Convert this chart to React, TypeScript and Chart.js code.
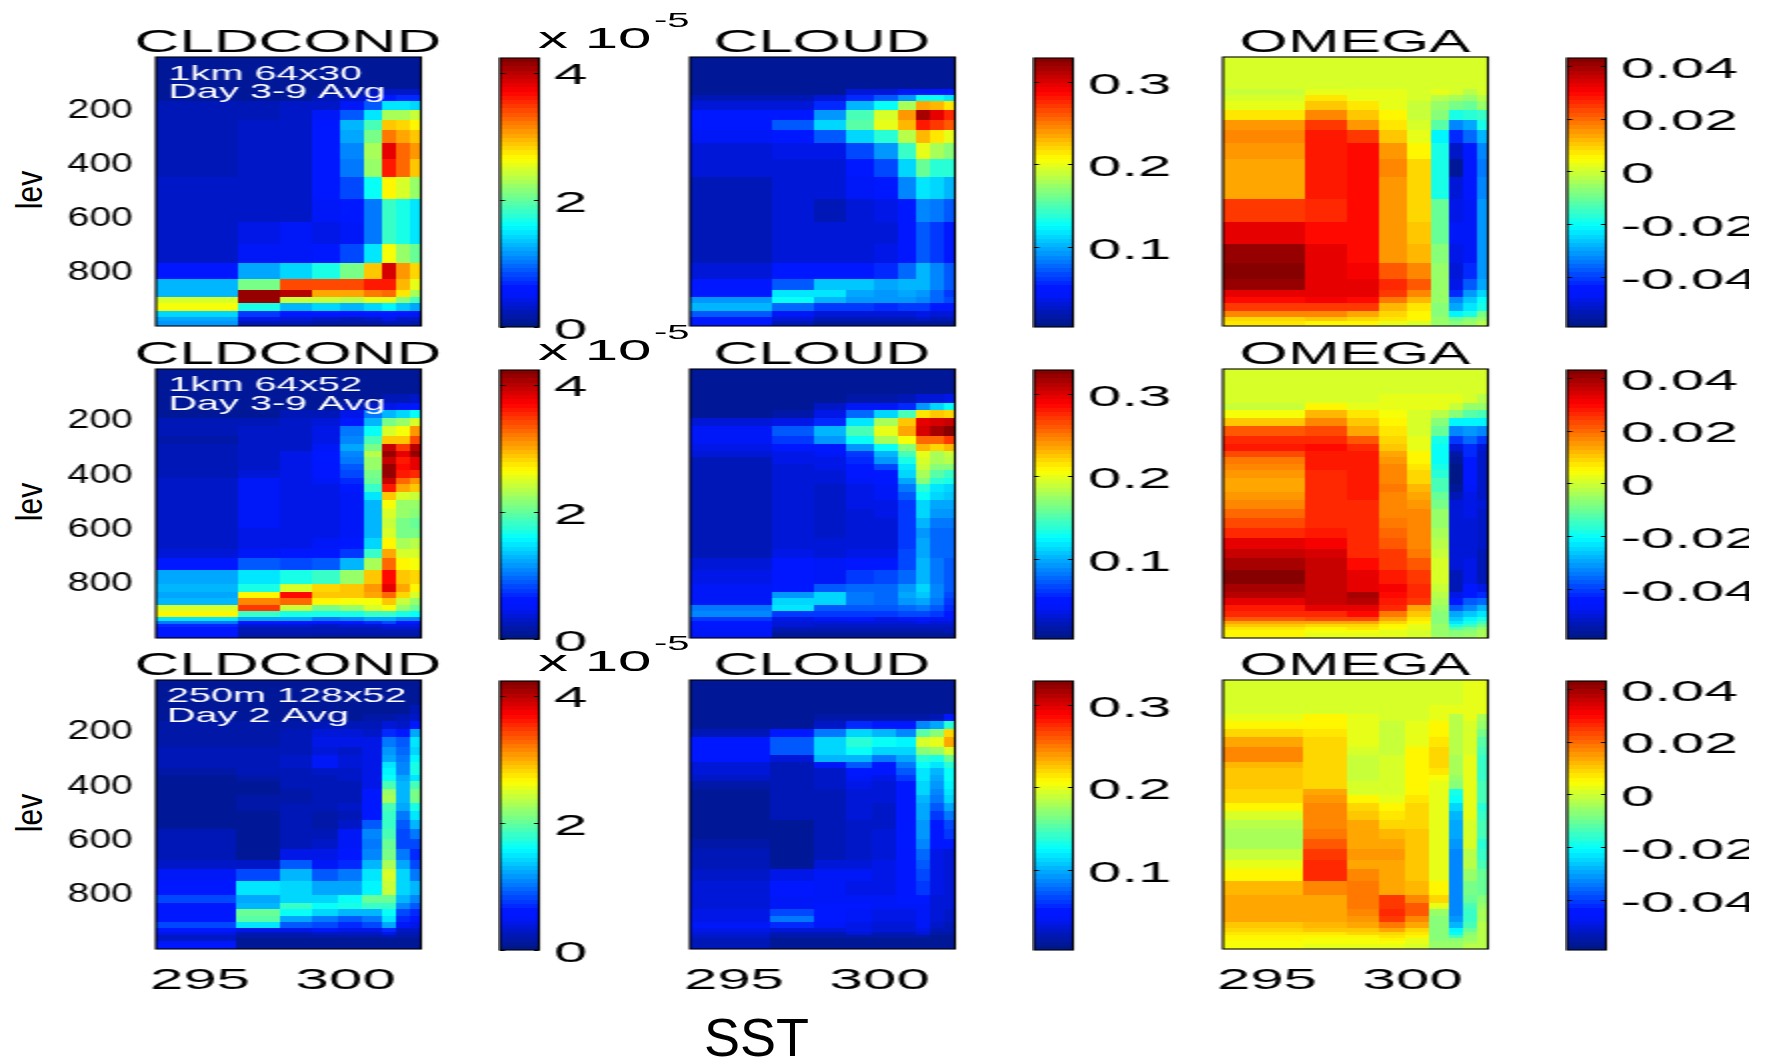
import React, { useEffect, useRef } from "react";
import { Chart, registerables } from "chart.js";

Chart.register(...registerables);

const FONT = '"Liberation Sans", Arial, sans-serif';

// SST column edges (K)
const sstEdgesA = [293.49, 296.3, 297.77, 298.86, 299.79, 300.64, 301.22, 301.72, 302.2, 302.58];
const sstEdgesB = [293.49, 296.24, 297.77, 298.82, 299.73, 300.58, 301.22, 301.72, 302.2, 302.58];

// Pressure level edges (hPa)
const levEdges30 = [10.7, 129.5, 151.8, 175, 208.7, 243, 280, 329.9, 389, 456, 537.7, 620.6, 703.5, 775, 834.6, 874, 900, 924, 951, 973, 989, 1008];
const levEdges52 = [16, 108, 142, 169, 196, 225, 262, 292, 319, 342, 366, 391, 418, 440, 471, 502, 533, 567, 604, 641, 680, 714, 761, 810, 841, 862, 890, 912, 933, 948, 960, 970, 982, 992, 1002, 1010.6];

const sstTicks = [295, 300];
const levTicks = [200, 400, 600, 800];
const cldcondTicks = [0, 2, 4];
const cloudTicks = [0.1, 0.2, 0.3];
const omegaTicks = [-0.04, -0.02, 0, 0.02, 0.04];

const notes1 = ["1km 64x30", "Day 3-9 Avg"];
const notes2 = ["1km 64x52", "Day 3-9 Avg"];
const notes3 = ["250m 128x52", "Day 2 Avg"];

// CLDCOND in 1e-6
const cldcond1 = [
[1,1,1,1,1,1,1,1,1],
[1,1,1,1,1,2,3,3,3],
[1,1,1,2,3,4,6,7,7],
[2,2,3,3,5,9,15,15,14],
[2,2,3,5,9,15,23,23,24],
[2,3,3,6,13,19,29,28,27],
[2,3,3,6,12,21,32,30,29],
[2,3,3,6,11,23,38,33,31],
[2,3,3,6,10,22,36,32.5,28.5],
[3,3,3,6,8,16,26.5,25,22],
[3,3,3,5,6,10,18,17,15],
[3,4,5,4,5,10,18,17,15],
[3,5,5,6,8,15,26,22,20],
[5.5,12.5,14.5,17,21,29,38.5,30.5,28],
[13,21,34,34,34,36,36,29.5,25.5],
[13,41.5,40,30,30,32,33,27.5,23],
[25,41.5,24,24,23.5,25.5,25.5,21.5,19],
[26,17,13,14,13,14,15.5,13.5,12],
[14.5,7.5,6.5,6,5.5,6,6.5,5.5,5],
[12,4,3.5,3,2.5,3,4,3,3],
[11.5,2,2,1.5,1.5,1.5,2,2,1.5],
];
// CLOUD in percent
const cloud1 = [
[1,1,1,1,1,1,1,1,1],
[1,1,1,3,3,4,4,5,5],
[2,2,3,5.5,7,9,13,13,12],
[3,3,5.5,10,13,18,23.5,23,21.5],
[5,5,9,15,19.5,24,31.5,29.5,27.5],
[5,7,11,15.5,20,23,28,27,26],
[4,5,7,11,14,18.5,23,21.5,20],
[3,3.5,3.5,6.5,9,14.5,20,18,17],
[3,3,3,5,6.5,11,16,14,14],
[2,3,3,4,5,8.5,12,11,10],
[2,3,2,3,3.5,5,8.5,8,7],
[2,3,3,3,3,4.5,7,6,5],
[2,3,3,3,3.5,4.5,7,6,5],
[3,5,5,5,5.5,7.5,10,8.5,7],
[4.5,7,10.5,10.5,9.5,10,10,8.5,7],
[5,12,12,9.5,9,9.5,9,7.5,6],
[9,13,10,9,9,9,8.5,7.5,6.5],
[10,7.5,6,6,5.5,6,6,5,5],
[7,4,3,3,3,3,3.5,3,3],
[5,3,2,2,2,2,2.5,2,2],
[5,2,1,1,1,1,1,1,1],
];
// OMEGA in 1e-3
const omega1 = [
[1,1,1,1,1,1,1,1,1],
[-1,2,2,2,1,3,1,-2,0],
[0,7,3,3,1,-2,-4,-6,-3],
[3,10,6.5,3,-1,-6,-9,-11,-6],
[7.5,17,10,6,-1,-7,-18,-17,-15],
[15,25,15.5,7,0,-12,-33,-30,-19],
[17,28,25,10,2,-21,-42,-36,-28],
[15.5,28,29,15,5.5,-19,-52,-44,-33],
[13,28,29,16,8,-19,-57,-45,-34],
[14,28,29,14.5,8,-19,-51,-45,-32],
[25,27,29,14.5,8,-11,-48,-47,-31],
[32,30,29,14.5,10,-10,-47,-47,-31],
[41,33,29,15,12,-7,-49,-47,-31],
[42,33,31,21,17,-5,-50,-43,-31],
[41,33,33,26,21,-5,-49,-38,-29],
[33,33,33,24,16,-6,-42,-31,-25],
[29,31,29,18.5,12,-6,-33,-27,-20],
[25,25,24,12.5,7,-7,-29,-23,-19],
[17,17,14,8,5,-7,-22,-19,-9],
[9.5,10,9,6.5,5,-6,-11,-8,-5],
[6.5,5,5,3,1,-5,-7,-5,-3],
];

const cldcond2 = [
[1,1,1,1,1,1,1,1,1],
[1,1,1,1,1,1,2,2,3],
[1,1,1,1,2,3,4,5,6],
[1,1,2,2,4,10,13,14,16],
[2,2,3,3.5,6,13,21,22,25],
[2,3,3,4,10,16,25,26,31],
[1.5,3,3,4.5,11,19,29,29,34],
[2,3,3,5,12,21,39,34.5,40],
[2,3,4,6,11,23.5,41,38,41],
[2,3,4,6,10,22,39,36,38],
[2,3,4,5.5,9,22,41,37,38],
[2.5,3.5,4,5.5,8,21,41,36,35.5],
[3,5,4.5,5,7,20,39,33,31],
[3,5,4.5,4.5,6.5,18,36,30,29],
[3,5,4.5,4.5,5,15,29,25,24],
[3,5,4.5,4.5,5,13,26,22,22],
[3,5,4.5,4.5,5,13,25,22,21.5],
[3,5,4.5,4.5,5,13,24,21,20],
[3,4.5,4.5,4.5,5,13,24.5,21,21],
[3,4.5,4.5,5,6,14,27,23,23.5],
[3.5,5,5.5,6.5,7.5,18,30,25,25],
[6,9,8,9,13,23,33,27,26],
[12,15,17,18,22,29,37,29,28],
[13,17,25,28,29,31,38,30,26.5],
[12,27,37,29,29,30,33,28,25],
[13,31.5,33,27,26,26,29,24,22],
[25,34.5,24,21,22,25,26,22,20],
[26.5,18,17,17,17,18,18,17,16],
[15,12,12,10,11,12,12,11,11],
[10,6,6,5.5,6,7,8,6,6],
[7,3.5,3.5,3,3.5,3.5,4,4,4],
[6,2.5,2.5,2,2,2.5,3,3,3],
[6,2,2,2,2,2,2,2,2],
[5.5,1.5,1.5,1.5,1.5,1.5,1.5,1.5,1.5],
[5.5,1.5,1.5,1,1,1,1,1,1],
];
const cloud2 = [
[1,1,1,1,1,1,1,1,1],
[1,1,1,1.5,1.5,2,3,3,3.5],
[1,1,2.5,4,4,5.5,9,11,13],
[1,1.5,3.5,7.5,11.5,15,21.5,22.5,22],
[3,3.5,5.5,12,18,22.5,29.5,30,30.5],
[4,7,10,15,20,23.5,30,31.5,32.5],
[4,6,9,13,18,20.5,25.5,25.5,27],
[3.5,5,5,9,13,17,23,22,23],
[3,3.5,4,6,10,15,20,18,19],
[2,3.5,3.5,5.5,9,13.5,19.5,18,18.5],
[2,3,3.5,5,6.5,12,19,17,17],
[2,3,3,4.5,5,11,18,15.5,14.5],
[2,3,3,4,5,9.5,17,14,13.5],
[2,3,2.5,3.5,4,8,14,12,11],
[2,3,2.5,3.5,4,7,13,11,10.5],
[2,3,2.5,3.5,3.5,6,11.5,9.5,9.5],
[2,3,2.5,3,3.5,6,11,9,9],
[2,3,2.5,3,3,6,10,8,8],
[2,3,2.5,3,3,6,9,7.5,7.5],
[2,3,3,3,3,6,9.5,7.5,7.5],
[2,3.5,3,3.5,3.5,6.5,9.5,7.5,7.5],
[3,4.5,4,4.5,5,6.5,10,8,7],
[3.5,4.5,4,6,6.5,7.5,10,8,7],
[4,5,7,7.5,7.5,9,11,8.5,7],
[4,9,11.5,8,7.5,9.5,10.5,8.5,6.5],
[4,11.5,11,8,7.5,9,9.5,8,6],
[8,12,7,7,7,7.5,8,7,5.5],
[8.5,6,6,6,6,6.5,6.5,6,5],
[6,3.5,4,4.5,3.5,4,4.5,4,4],
[5,3,3,3,3,3,3.5,3,3],
[5,3,2.5,2.5,2.5,2.5,2.5,2.5,2.5],
[4,2,2,2,2,2,2,2,2],
[4,1.5,1.5,1.5,1.5,1.5,1.5,1.5,2],
[4,1,1,1,1,1,1,1,1],
[4,1,1,1,1,1,1,1,1],
];
const omega2 = [
[1,1,1,1,1,1,1,1,1],
[1,1,1,2,3,3,2,1,-2],
[-0.5,5,3,2.5,2,2,-1,-6,-6],
[3.5,12,7.5,3.5,1.5,-3,-7,-12,-13],
[10,16,11,5,1,-7,-21,-21,-21],
[22,23,14,7,0,-11,-32,-31,-33],
[27,27,22,8,2,-19,-41,-36,-41],
[28,29,27,11,3,-20,-50,-42,-50],
[23,28,28,14,5,-20,-55,-43,-52],
[19,28,28,15,6,-20,-56,-44,-52],
[17,28,28,16,7,-18,-58,-46,-52],
[15,27,28,16,8.5,-17,-58,-46,-52],
[14,27,28,17,9.5,-14,-58,-46,-52],
[13,27,28,18,12,-13,-57,-47,-52],
[15,27,28,17,14,-11,-53,-48,-52],
[17,27,27,17,15,-9,-51,-49,-51],
[20,27,27,17,16,-6,-51,-49,-52],
[23,27,27,18,16,-5,-51,-50,-52],
[27,28,27,20,17,-4,-51,-50,-52],
[32,31,27,21,17,-2,-51,-50,-52],
[36,35,27,24,18,-1,-51,-50,-53],
[39,36,30,25,22,0,-50,-49,-54],
[42,36,33,28,24,0,-54,-48,-53],
[39,36,33,31,26,-1,-53,-46,-48],
[38,36,39,29,26,-2,-48,-44,-42],
[33,36,37,28,25,-4,-44,-38,-36],
[28,33,33,26,14,-6,-37,-32,-28],
[26,27,29,18,10,-7,-30,-27,-23],
[21,23,23,13,7,-7,-26,-22,-18],
[14,13,14,9,5,-7,-23,-19,-13],
[10,8,9,6,3,-6,-19,-15,-10],
[7,6,7,4,2,-6,-12,-9,-6],
[6,4,4,3,1,-5,-8,-7,-4],
[5,3,3,2,0,-5,-7,-6,-4],
[5,3,2,2,0,-4,-6,-5,-3],
];

const cldcond3 = [
[1,1,1,1,1,1,1,1,1],
[1,1,1,1,1,1,1,1,2],
[1,1,1,1,1,1.5,1.5,2,3],
[1.5,1.5,1.5,2,2,2,3.5,3,6],
[1.5,1.5,2.5,3.5,3.5,3,7,6,12],
[1.5,1.5,2.5,4.5,4.5,4,10,9,15],
[2,2,2.5,3.5,3,4,11.5,9.5,14],
[2,2,3,5,3.5,4.5,12.5,10.5,15.5],
[2,2,3,5,3.5,4.5,15,11,17],
[1.5,2,2.5,3,3,4,15.5,11,17],
[1,1.5,2,2.5,3,4,16,12,15],
[1,1,2,2.5,2.5,4.5,19,13,19],
[1,1,1.5,2,2.5,5.5,22,13,21],
[1,1.5,1.5,2,2.5,6,23,13,21],
[1,1.5,2,2,3,6,19,12,17],
[1,1,2,1.5,2.5,6,18,10,15],
[1,1,2,1.5,3,9,18,9,13],
[2,1,2,2,5,11,19,8,10],
[2.5,1,2,3,5,10,20,8,8],
[2.5,1,4,4,5.5,11,21,10,7],
[3,3,9,5,7,13,23,12,8],
[5,8,13,9,10,15,25,14,10],
[6.5,15,14,12,12,15.5,24,14,13],
[8,12,14,14,16,20,20,13,11],
[6,13,18,16,17,18,18,11,9],
[6,20,16,14,13,13,16,8,7],
[6,19.5,12,10,9,10,15,7,5.5],
[8,15,9,8,7,8,12,5,4],
[6,4,4,5,4,4,7,3,3],
[4,2,2,3,3,3,4,2,2],
[3,1.5,1.5,1.5,1.5,1.5,2,1.5,1.5],
[3,1,1,1,1,1,1,1,1],
[5,1,1,1,1,1,1,1,1],
[6,1,1,1,1,1,1,1,1],
[6,1,1,1,1,1,1,1,1],
];
const cloud3 = [
[1,1,1,1,1,1,1,1,1],
[1,1,1,1,1,1,1,1,1],
[1,1,1.5,1.5,1.5,1.5,1.5,2,5],
[1,1,2.5,5.5,5,4.5,8.5,9.5,14],
[2,4.5,8,11,10,8.5,15.5,17,22],
[5,7,11,14,13,12.5,19.5,20,23.5],
[5,7,11,13,11,11,17,17.5,19.5],
[5,3,10,10,8,9.5,14,13.5,16],
[3,2,4,7,5,8,13,12,14],
[3,2,2.5,5,4.5,7,12,10,13],
[2.5,2,2.5,4,3.5,6,12,9.5,13],
[1.5,2,2.5,3.5,3,5,11,9,12.5],
[1,2,2,3,3,4.5,11,8.5,12],
[1,2,2,3,3,4.5,10,8,11],
[1,2,2,3,2.5,4.5,9.5,7,9.5],
[1,2,2,3,2.5,4.5,9.5,6,8],
[1,1,2,2.5,2.5,5,9,5,6.5],
[1,1,2,2.5,3,5,9,4.5,6],
[1.5,1,2,2.5,3,5,8.5,4.5,5],
[2,1,2,2.5,3,4.5,7.5,3.5,3],
[2,1,3,3,3.5,4.5,7,3.5,3],
[2.5,3.5,4,4,3.5,4.5,6.5,3.5,3],
[3,4.5,4,3.5,3.5,4.5,6,3.5,3],
[3,4,4,4,4,5,5,3,3],
[3,4,4.5,4.5,4,4,4,3,3],
[3.5,6.5,5,4,3.5,3.5,4,3,2.5],
[3.5,8,5,4,3.5,3.5,4,3,2.5],
[4,5.5,4,3.5,3,3,4,2.5,2],
[3.5,3,3,3.5,3,3,3.5,2,2],
[3,2,2,3,2,2,3,1.5,1.5],
[2.5,1.5,1.5,1.5,1.5,1.5,1.5,1,1],
[2,1,1,1,1,1,1,1,1],
[2,1,1,1,1,1,1,1,1],
[2,1,1,1,1,1,1,1,1],
[2,1,1,1,1,1,1,1,1],
];
const omega3 = [
[1,1,1,1,1,1,1,2,3],
[1,1,1,1,1,2,2,2,3],
[2,5,2,0,1,2,-2,2,-4],
[5.5,5.5,3,-1,2,5,-2,1,-6],
[9,7,3,-1.5,3,6,-2,1,-9],
[13,8,3,-1.5,3,7.5,-2,1,-12],
[16.5,8,1.5,-1,5,8,-2.5,1,-13],
[16,8,-0.5,0,5,8,-4,3,-15],
[12,8,-0.5,0.5,5,8,-4,3,-15],
[11,8,-0.5,0.5,5,7,-4,3,-15],
[10.5,9,-0.5,0.5,5,4,-6,2,-15],
[10,9,0,1,5,3,-8,2,-14],
[9.5,14,0.5,1,5,2,-18,2,-14],
[8.5,15,5,2,7,2,-20,2,-14],
[5,17,8,5,8,2,-25,2,-17],
[0,17,11,7,8.5,2,-28,2,-15],
[-3,17,14,9.5,9,2,-29,1,-14],
[-3.5,17.5,14,12,10,2,-29,0,-14],
[-3.5,22,14,13,10,2,-31,0,-17],
[-1,24.5,14.5,15,10,2,-32,-3,-15],
[3,26,14,13,10,2,-32,-3,-14],
[6,26,16,13,10,3,-32,-5,-11],
[12,17,19,14,12,5,-32,-9,-11],
[14,14,18,24,16,8,-32,-11,-8],
[14,14,18,25,22,2,-33,-13,-5],
[14,14,17,26,21,-6,-33,-15,-4],
[14,13.5,15.5,24,17,-8,-31,-15,-4],
[11,12,14,19,13,-8,-28,-14,-3],
[9,10,11,14,9,-8,-22,-11,-2],
[7,7,8,9,7,-8,-20,-8,-2],
[5,6,5,7,5,-8,-13,-6,-2],
[5,4,4,5,3,-7,-8,-5,-2],
[4,4,4,4,2,-6,-6,-4,-2],
[4,3,3,3,1,-5,-5,-3,-2],
[4,3,3,3,1,-5,-5,-3,-2],
];

const clamp = (v: number) => Math.max(0, Math.min(1, v));
function jet(t: number) {
  const q = (Math.min(63, Math.max(0, Math.floor(clamp(t) * 64))) + 0.5) / 64;
  const r = clamp(1.5 - Math.abs(4 * q - 3));
  const g = Math.max(clamp(1.5 - Math.abs(4 * q - 2)), q < 0.3 ? 0.09 : 0);
  const b = clamp(1.5 - Math.abs(4 * q - 1));
  return `rgb(${Math.round(r * 255)},${Math.round(g * 255)},${Math.round(b * 255)})`;
}

const SX = 2;
const AREA_H = 269;
const TITLE_H = 28;

function drawCells(chart: any) {
  const { ctx } = chart;
  const xs = chart.scales.x;
  const ys = chart.scales.y;
  const cells = chart.data.datasets[0].data;
  for (const c of cells) {
    const x0 = Math.round(xs.getPixelForValue(c.x0));
    const x1 = Math.round(xs.getPixelForValue(c.x1));
    const y0 = Math.round(ys.getPixelForValue(c.y0));
    const y1 = Math.round(ys.getPixelForValue(c.y1));
    ctx.fillStyle = c.color;
    ctx.fillRect(x0, Math.min(y0, y1), x1 - x0, Math.abs(y1 - y0));
  }
}

type PluginOpts = {
  notes?: string[] | null; noteX?: number; noteYs?: number[];
  barTicks?: boolean; levLabels?: boolean;
};

function framePlugin(o: PluginOpts) {
  return {
    id: "cellFrame",
    beforeDatasetsDraw(chart: any) {
      drawCells(chart);
    },
    afterDraw(chart: any) {
      const { ctx, chartArea: a } = chart;
      const ys = chart.scales.y;
      ctx.save();
      if (o.notes) {
        ctx.fillStyle = "#fff";
        ctx.font = `19.8px ${FONT}`;
        ctx.textAlign = "left";
        ctx.textBaseline = "alphabetic";
        o.notes.forEach((n, i) => ctx.fillText(n, a.left + (o.noteX || 0), a.top + (o.noteYs || [])[i]));
      }
      ctx.strokeStyle = "#000";
      ctx.lineWidth = 1.1;
      ctx.strokeRect(a.left, a.top, a.right - a.left, a.bottom - a.top);
      if (o.barTicks) {
        ctx.lineWidth = 1;
        ctx.fillStyle = "#000";
        ctx.font = `30px ${FONT}`;
        ctx.textAlign = "left";
        ctx.textBaseline = "middle";
        for (const t of ys.ticks) {
          const yv = ys.getPixelForValue(t.value);
          const y = Math.round(yv) + 0.5;
          ctx.beginPath();
          ctx.moveTo(a.left, y);
          ctx.lineTo(a.left + 2.5, y);
          ctx.moveTo(a.right - 2.5, y);
          ctx.lineTo(a.right, y);
          ctx.stroke();
          ctx.fillText(String(t.value), a.right + 7.5, yv + 3.5);
        }
      }
      if (o.levLabels) {
        ctx.fillStyle = "#000";
        ctx.font = `28px ${FONT}`;
        ctx.textAlign = "right";
        ctx.textBaseline = "middle";
        for (const t of ys.ticks) {
          ctx.save();
          ctx.translate(a.left - 11.5, ys.getPixelForValue(t.value) + 2);
          ctx.scale(0.7, 1);
          ctx.fillText(String(t.value), 0, 0);
          ctx.restore();
        }
      }
      ctx.restore();
    },
  };
}

function stretchStyle(left: number, top: number): React.CSSProperties {
  return { position: "absolute", left, top, transform: `scaleX(${SX})`, transformOrigin: "0 0" };
}

function Heat(props: {
  left: number; top: number; title: string; values: number[][]; xEdges: number[]; yEdges: number[];
  domain: [number, number]; showY: boolean; showX: boolean; notes: string[] | null; noteX: number; noteYs: number[];
}) {
  const ref = useRef<HTMLCanvasElement>(null);
  useEffect(() => {
    const { values, xEdges, yEdges, domain } = props;
    const cells: any[] = [];
    values.forEach((row, r) =>
      row.forEach((v, c) =>
        cells.push({
          x: (xEdges[c] + xEdges[c + 1]) / 2,
          y: (yEdges[r] + yEdges[r + 1]) / 2,
          x0: xEdges[c], x1: xEdges[c + 1], y0: yEdges[r], y1: yEdges[r + 1], v,
          color: jet((v - domain[0]) / (domain[1] - domain[0])),
        })
      )
    );
    const chart = new Chart(ref.current!, {
      type: "scatter",
      data: { datasets: [{ label: props.title, data: cells, pointRadius: 0, showLine: false }] },
      options: {
        responsive: false,
        animation: false,
        events: [],
        layout: { padding: { left: 0, right: 0, top: 0, bottom: props.showX ? 0 : 3 } },
        plugins: {
          legend: { display: false },
          tooltip: { enabled: false },
          title: {
            display: true, text: props.title, color: "#000", fullSize: true,
            font: { family: FONT, size: 31, weight: "normal", lineHeight: 27 / 31 },
            padding: { top: 1, bottom: 0 },
          },
        },
        scales: {
          x: {
            type: "linear", min: xEdges[0], max: xEdges[xEdges.length - 1], display: props.showX,
            grid: { display: false, drawTicks: false }, border: { display: false },
            afterBuildTicks: (s: any) => { s.ticks = sstTicks.map((value) => ({ value })); },
            afterFit: (s: any) => { s.height = props.showX ? 70 : 0; },
            ticks: { color: "#000", padding: 14, maxRotation: 0, autoSkip: false, font: { family: FONT, size: 30 }, callback: (v: any) => String(v) },
          },
          y: {
            type: "linear", reverse: true, min: yEdges[0], max: yEdges[yEdges.length - 1],
            grid: { display: false, drawTicks: false }, border: { display: false },
            afterBuildTicks: (s: any) => { s.ticks = levTicks.map((value) => ({ value })); },
            afterFit: (s: any) => { s.width = 48; },
            ticks: { display: false, autoSkip: false },
          },
          spacer: {
            type: "linear", position: "right", min: 0, max: 1,
            grid: { display: false, drawTicks: false }, border: { display: false },
            afterFit: (s: any) => { s.width = 47.5; },
            ticks: { display: false },
          },
        },
      } as any,
      plugins: [framePlugin({ notes: props.notes, noteX: props.noteX, noteYs: props.noteYs, levLabels: props.showY })],
    });
    return () => chart.destroy();
  }, []);
  const h = TITLE_H + AREA_H + (props.showX ? 70 : 3);
  return (
    <div style={stretchStyle(props.left, props.top - TITLE_H)}>
      <canvas ref={ref} width={228} height={h} style={{ display: "block" }} />
    </div>
  );
}

function Bar(props: { left: number; top: number; range: [number, number]; ticks: number[]; title: string }) {
  const ref = useRef<HTMLCanvasElement>(null);
  useEffect(() => {
    const [lo, hi] = props.range;
    const cells: any[] = [];
    for (let i = 0; i < 64; i++) {
      const y0 = lo + ((hi - lo) * i) / 64;
      const y1 = lo + ((hi - lo) * (i + 1)) / 64;
      cells.push({ x: 0.5, y: (y0 + y1) / 2, x0: 0, x1: 1, y0, y1, color: jet((i + 0.5) / 64) });
    }
    const chart = new Chart(ref.current!, {
      type: "scatter",
      data: { datasets: [{ label: props.title, data: cells, pointRadius: 0, showLine: false }] },
      options: {
        responsive: false,
        animation: false,
        events: [],
        layout: { padding: { left: 1, right: 0, top: 30, bottom: 30 } },
        plugins: { legend: { display: false }, tooltip: { enabled: false }, title: { display: false } },
        scales: {
          x: { type: "linear", min: 0, max: 1, display: false, afterFit: (s: any) => { s.height = 0; } },
          y: {
            type: "linear", position: "right", min: lo, max: hi,
            grid: { display: false, drawTicks: false }, border: { display: false },
            afterBuildTicks: (s: any) => { s.ticks = props.ticks.map((value) => ({ value })); },
            afterFit: (s: any) => { s.width = 110.5; },
            ticks: { display: false, autoSkip: false },
          },
        },
      } as any,
      plugins: [framePlugin({ barTicks: true })],
    });
    return () => chart.destroy();
  }, []);
  return (
    <div style={stretchStyle(props.left, props.top - 30)}>
      <canvas ref={ref} width={131} height={AREA_H + 60} style={{ display: "block" }} />
    </div>
  );
}

function Txt(props: { x: number; y: number; size: number; sx: number; children: string; rotate?: boolean }) {
  return (
    <span
      style={{
        position: "absolute", left: props.x, top: props.y, fontFamily: FONT, fontSize: props.size, lineHeight: 1,
        whiteSpace: "nowrap", color: "#000", transformOrigin: props.rotate ? "50% 50%" : "0 0",
        transform: props.rotate ? `scaleX(${props.sx}) rotate(-90deg)` : `scaleX(${props.sx})`,
      }}
    >
      {props.children}
    </span>
  );
}

const rowTops = [57, 369, 680];
const colLefts = [60, 594, 1127];
const barLefts = [498, 1032, 1565];
const barTops = [58, 370, 681];
const levCenters = [190, 502, 813];
const cldDomain: [number, number] = [0, 42.3];
const cloudDomain: [number, number] = [0.3, 32.9];
const omegaDomain: [number, number] = [-59, 43];
const cldRange: [number, number] = [0, 4.23];
const cloudRange: [number, number] = [0.003, 0.329];
const omegaRange: [number, number] = [-0.059, 0.043];

export default function App() {
  const rows = [
    { c: cldcond1, k: cloud1, o: omega1, xe: sstEdgesA, ye: levEdges30, n: notes1, nx: 6.3, ny: [23, 41] },
    { c: cldcond2, k: cloud2, o: omega2, xe: sstEdgesA, ye: levEdges52, n: notes2, nx: 6.3, ny: [22, 41] },
    { c: cldcond3, k: cloud3, o: omega3, xe: sstEdgesB, ye: levEdges52, n: notes3, nx: 5.5, ny: [22, 42] },
  ];
  useEffect(() => {
    document.body.style.margin = "0";
    document.body.style.background = "#fff";
  }, []);
  return (
    <div style={{ position: "fixed", left: 0, top: 0, width: 1749, height: 1058, overflow: "hidden", background: "#fff" }}>
      {rows.map((r, i) => (
        <React.Fragment key={i}>
          <Bar left={barLefts[0]} top={barTops[i]} range={cldRange} ticks={cldcondTicks} title="CLDCOND scale" />
          <Bar left={barLefts[1]} top={barTops[i]} range={cloudRange} ticks={cloudTicks} title="CLOUD scale" />
          <Bar left={barLefts[2]} top={barTops[i]} range={omegaRange} ticks={omegaTicks} title="OMEGA scale" />
          <Heat left={colLefts[0]} top={rowTops[i]} title="CLDCOND" values={r.c} xEdges={r.xe} yEdges={r.ye} domain={cldDomain} showY showX={i === 2} notes={r.n} noteX={r.nx} noteYs={r.ny} />
          <Heat left={colLefts[1]} top={rowTops[i]} title="CLOUD" values={r.k} xEdges={r.xe} yEdges={r.ye} domain={cloudDomain} showY={false} showX={i === 2} notes={null} noteX={0} noteYs={[]} />
          <Heat left={colLefts[2]} top={rowTops[i]} title="OMEGA" values={r.o} xEdges={r.xe} yEdges={r.ye} domain={omegaDomain} showY={false} showX={i === 2} notes={null} noteX={0} noteYs={[]} />
          <Txt x={538} y={23 + barTops[i] - 58} size={30} sx={2}>x 10</Txt>
          <Txt x={654} y={9.5 + barTops[i] - 58} size={20} sx={2}>-5</Txt>
          <Txt x={29 - 19} y={levCenters[i] - 15} size={30} sx={1.25} rotate>lev</Txt>
        </React.Fragment>
      ))}
      <Txt x={704} y={1011} size={53} sx={1.02}>SST</Txt>
    </div>
  );
}
